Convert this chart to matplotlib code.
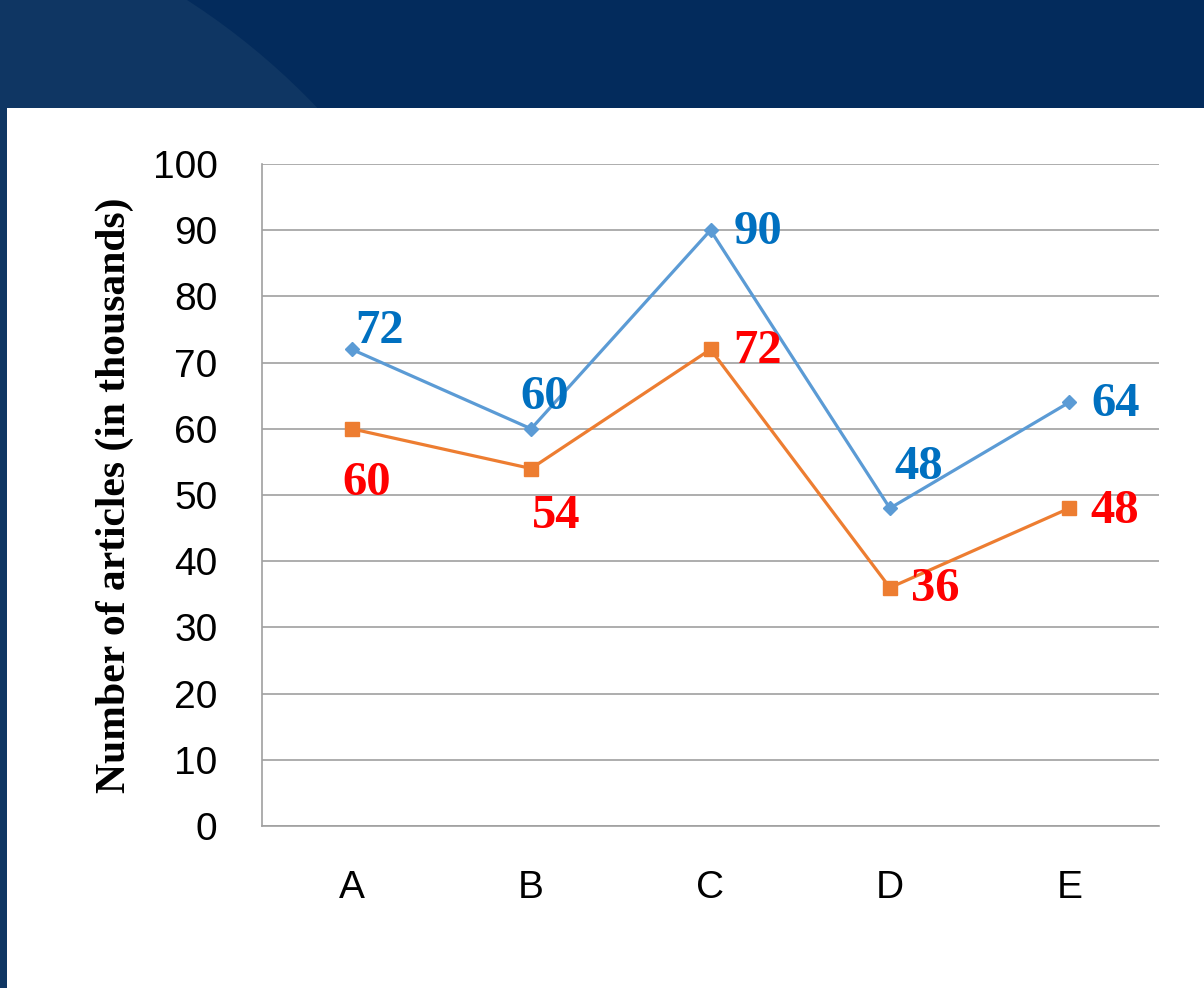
import matplotlib.pyplot as plt
from matplotlib.patches import Rectangle, Ellipse

# data
categories = ['A', 'B', 'C', 'D', 'E']
series_blue = [72, 60, 90, 48, 64]
series_orange = [60, 54, 72, 36, 48]
y_ticks = [0, 10, 20, 30, 40, 50, 60, 70, 80, 90, 100]

# label offsets (in points) for each data label
blue_offsets = [(20, 13), (10, 23), (34, -1), (21, 30), (33, -1)]
orange_offsets = [(11, -39), (18, -34), (34, -1), (33, -1), (33, -2)]

fig = plt.figure(figsize=(12.04, 9.88), dpi=100)
fig.patch.set_facecolor('#032b5c')

# lighter arc in the dark banner
fig.add_artist(Ellipse((-200 / 1204, 1 - 600 / 988), 2 * 714 / 1204, 2 * 714 / 988,
                       transform=fig.transFigure, facecolor='#0f3663',
                       edgecolor='none', zorder=-11))
# white panel
fig.add_artist(Rectangle((7 / 1204, 0), 1, 880 / 988, transform=fig.transFigure,
                         facecolor='white', edgecolor='none', zorder=-10))

ax = fig.add_axes([262 / 1204, 162 / 988, 897 / 1204, 662 / 988])
ax.set_facecolor('none')

x = list(range(len(categories)))
ax.plot(x, series_blue, color='#5b9bd5', lw=2.3, marker='D', markersize=7, zorder=3)
ax.plot(x, series_orange, color='#ed7d31', lw=2.3, marker='s', markersize=9.5, zorder=3)

for i, v in enumerate(series_blue):
    ax.annotate(str(v), (i, v), xytext=blue_offsets[i], textcoords='offset points',
                ha='center', va='center', color='#0070c0', fontsize=35,
                fontweight='bold', family='Liberation Serif', zorder=4)
for i, v in enumerate(series_orange):
    ax.annotate(str(v), (i, v), xytext=orange_offsets[i], textcoords='offset points',
                ha='center', va='center', color='#ff0000', fontsize=35,
                fontweight='bold', family='Liberation Serif', zorder=4)

ax.set_xlim(-0.5, len(categories) - 0.5)
ax.set_ylim(0, 100)
ax.set_yticks(y_ticks)
ax.set_xticks(x)
ax.set_xticklabels(categories)
ax.tick_params(axis='both', length=0, labelsize=28)
ax.tick_params(axis='y', pad=32)
ax.tick_params(axis='x', pad=32)
for lab in ax.get_xticklabels() + ax.get_yticklabels():
    lab.set_family('Liberation Sans')

ax.grid(axis='y', color='#a0a0a0', lw=1.2)
ax.set_axisbelow(True)
for s in ['top', 'right']:
    ax.spines[s].set_visible(False)
for s in ['left', 'bottom']:
    ax.spines[s].set_color('#a0a0a0')
    ax.spines[s].set_linewidth(1.2)

fig.text(115 / 1204, 1 - 495 / 988, 'Number of articles (in thousands)', rotation=90,
         ha='center', va='center', fontsize=30, fontweight='bold',
         family='Liberation Serif')

fig.savefig('out.png', dpi=100, facecolor=fig.get_facecolor())
